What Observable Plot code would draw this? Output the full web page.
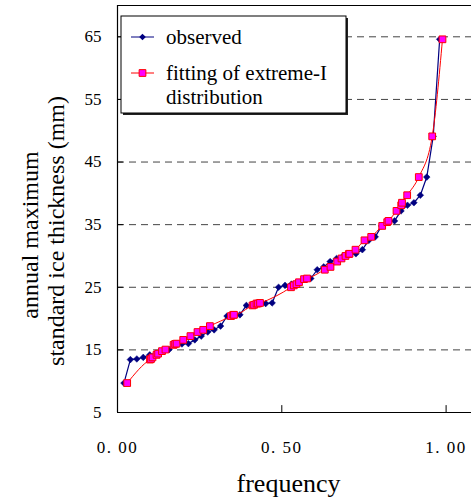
<!DOCTYPE html>
<html>
<head>
<meta charset="utf-8">
<script src="https://cdn.jsdelivr.net/npm/d3@7"></script>
<script src="https://cdn.jsdelivr.net/npm/@observablehq/plot@0.6"></script>
<style>
  body { margin: 0; background: #fff; }
  #chart svg text { font-family: "Liberation Serif", "Times New Roman", serif !important; }
  #chart g[aria-label="x-axis tick label"] text { letter-spacing: 1.5px; }
</style>
</head>
<body>
<div id="chart"></div>
<script>
// Observed: empirical frequency and annual maximum standard ice thickness (mm)
const obsFreq = [0.0196, 0.0392, 0.0588, 0.0784, 0.0980, 0.1176, 0.1373, 0.1569, 0.1765, 0.1961,
                 0.2157, 0.2353, 0.2549, 0.2745, 0.2941, 0.3137, 0.3333, 0.3529, 0.3725, 0.3922,
                 0.4118, 0.4314, 0.4510, 0.4706, 0.4902, 0.5098, 0.5294, 0.5490, 0.5686, 0.5882,
                 0.6078, 0.6275, 0.6471, 0.6667, 0.6863, 0.7059, 0.7255, 0.7451, 0.7647, 0.7843,
                 0.8039, 0.8235, 0.8431, 0.8627, 0.8824, 0.9020, 0.9216, 0.9412, 0.9608, 0.9804];
const obsValue = [9.7, 13.45, 13.55, 13.8, 14.2, 14.4, 14.8, 15.05, 15.8, 15.95,
                  16.0, 16.6, 17.2, 17.85, 18.2, 18.8, 20.4, 20.6, 20.6, 22.1,
                  22.2, 22.4, 22.4, 22.5, 25.0, 25.3, 25.5, 25.8, 26.3, 26.4,
                  27.8, 28.25, 29.1, 29.6, 30.0, 30.3, 30.35, 31.0, 32.5, 33.05,
                  34.8, 35.4, 35.6, 37.2, 38.1, 38.5, 39.7, 42.6, 49.1, 64.6];
// Fitting of extreme-I distribution
const fitFreq = [0.0295, 0.0989, 0.1020, 0.1065, 0.1187, 0.1236, 0.1354, 0.1460, 0.1707, 0.1753,
                 0.1798, 0.2000, 0.2220, 0.2435, 0.2608, 0.2812, 0.3454, 0.3520, 0.3545, 0.4110,
                 0.4157, 0.4230, 0.4276, 0.4337, 0.5280, 0.5365, 0.5447, 0.5523, 0.5676, 0.5767,
                 0.6309, 0.6482, 0.6686, 0.6817, 0.6939, 0.7039, 0.7060, 0.7243, 0.7517, 0.7721,
                 0.8055, 0.8208, 0.8247, 0.8491, 0.8634, 0.8658, 0.8816, 0.9169, 0.9577, 0.9890];
const fitValue = [9.7, 13.45, 13.55, 13.8, 14.2, 14.4, 14.8, 15.05, 15.8, 15.95,
                  16.0, 16.6, 17.2, 17.85, 18.2, 18.8, 20.4, 20.6, 20.6, 22.1,
                  22.2, 22.4, 22.4, 22.5, 25.0, 25.3, 25.5, 25.8, 26.3, 26.4,
                  27.8, 28.25, 29.1, 29.6, 30.0, 30.3, 30.35, 31.0, 32.5, 33.05,
                  34.8, 35.4, 35.6, 37.2, 38.1, 38.5, 39.7, 42.6, 49.1, 64.6];

const yTicks = [5, 15, 25, 35, 45, 55, 65];
const gridValues = [15, 25, 35, 45, 55, 65];
const xTicks = [0, 0.5, 1];
const xTickLabels = ["0. 00", "0. 50", "1. 00"];
const legendLabels = ["observed", "fitting of extreme-I", "distribution"];
const xLabel = "frequency";
const yLabelLines = ["annual maximum", "standard ice thickness (mm)"];

const obs = obsFreq.map((f, i) => ({f, v: obsValue[i]}));
const fit = fitFreq.map((f, i) => ({f, v: fitValue[i]}));

const plot = Plot.plot({
  width: 471,
  height: 500,
  marginLeft: 117,
  marginRight: 0,
  marginTop: 5,
  marginBottom: 88,
  x: {domain: [0, 1.0773]},
  y: {domain: [5, 70]},
  style: {fontFamily: "'Liberation Serif', serif", fontSize: "17px", background: "white", color: "black"},
  marks: [
    Plot.ruleY(gridValues, {stroke: "#444", strokeDasharray: "7,5", strokeWidth: 1}),
    Plot.ruleY([5], {stroke: "black", strokeWidth: 1.2}),
    Plot.ruleY([70], {stroke: "black", strokeWidth: 1.2}),
    Plot.ruleX([0], {stroke: "black", strokeWidth: 1.2}),
    Plot.ruleY(yTicks, {x1: 0, x2: 0.018, stroke: "black"}),
    Plot.ruleX([0.5, 1], {y1: 5, y2: 6.1, stroke: "black"}),
    Plot.axisY(yTicks, {tickSize: 0, tickPadding: 16, fontSize: 17, label: null}),
    Plot.axisX(xTicks, {tickSize: 0, tickPadding: 28, fontSize: 17, label: null,
      tickFormat: d => xTickLabels[xTicks.indexOf(d)]}),
    Plot.line(obs, {x: "f", y: "v", stroke: "#000080", strokeWidth: 1.2}),
    Plot.dot(obs, {x: "f", y: "v", symbol: "diamond2", r: 3, fill: "#000080", stroke: "#000080", strokeWidth: 0.5}),
    Plot.line(fit, {x: "f", y: "v", stroke: "#FF0000", strokeWidth: 1, curve: "monotone-x"}),
    Plot.dot(fit, {x: "f", y: "v", symbol: "square", r: 3.8, fill: "#FF00FF", stroke: "#FF0000", strokeWidth: 1}),
    Plot.text([xLabel], {frameAnchor: "bottom", dx: -6, dy: 71, fontSize: 26, lineAnchor: "middle", textAnchor: "middle"}),
    Plot.text([yLabelLines[0]], {frameAnchor: "left", rotate: -90, dx: -87, dy: 26, fontSize: 24, lineAnchor: "middle", textAnchor: "middle"}),
    Plot.text([yLabelLines[1]], {frameAnchor: "left", rotate: -90, dx: -61, dy: 22, fontSize: 24, lineAnchor: "middle", textAnchor: "middle"})
  ]
});

document.getElementById("chart").appendChild(plot);

// Legend box
const svg = d3.select(plot);
const lg = svg.append("g").attr("text-anchor", "start");
lg.append("rect").attr("x", 123).attr("y", 18).attr("width", 225).attr("height", 97).attr("fill", "#222");
lg.append("rect").attr("x", 121).attr("y", 16).attr("width", 225).attr("height", 97)
  .attr("fill", "white").attr("stroke", "black").attr("stroke-width", 1);
// observed entry
lg.append("line").attr("x1", 131).attr("x2", 154).attr("y1", 37).attr("y2", 37).attr("stroke", "#000080");
lg.append("path").attr("d", d3.symbol(d3.symbolDiamond2, 3 * 3 * Math.PI)())
  .attr("transform", "translate(142.5,37)").attr("fill", "#000080");
lg.append("text").attr("x", 166).attr("y", 37).attr("dy", "0.32em").attr("font-size", 21)
  .attr("text-anchor", "start").text(legendLabels[0]);
// fitting entry
lg.append("line").attr("x1", 131).attr("x2", 154).attr("y1", 73).attr("y2", 73).attr("stroke", "#FF0000");
lg.append("path").attr("d", d3.symbol(d3.symbolSquare, 3.8 * 3.8 * Math.PI)())
  .attr("transform", "translate(142.5,73)").attr("fill", "#FF00FF").attr("stroke", "#FF0000");
lg.append("text").attr("x", 166).attr("y", 73).attr("dy", "0.32em").attr("font-size", 21)
  .attr("text-anchor", "start").text(legendLabels[1]);
lg.append("text").attr("x", 166).attr("y", 97).attr("dy", "0.32em").attr("font-size", 21)
  .attr("text-anchor", "start").text(legendLabels[2]);
</script>
</body>
</html>
